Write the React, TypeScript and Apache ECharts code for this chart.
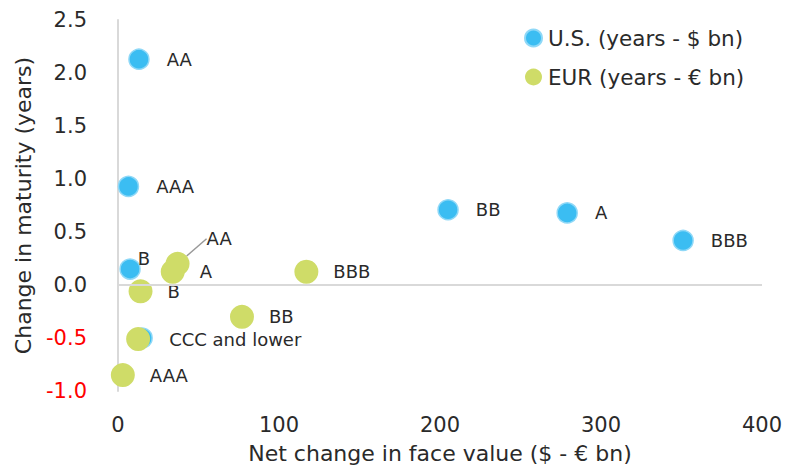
import React, { useEffect, useRef } from "react";
import * as echarts from "echarts";

const usLabels = ["AA", "AAA", "B", "CCC and lower", "BB", "A", "BBB"];
const usX = [13, 6.5, 7.5, 15, 205, 279, 351];
const usY = [2.13, 0.93, 0.15, -0.5, 0.71, 0.68, 0.42];

const eurLabels = ["AA", "A", "BBB", "B", "BB", "CCC and lower", "AAA"];
const eurX = [37, 34, 117, 14, 77, 12.5, 3];
const eurY = [0.2, 0.125, 0.125, -0.06, -0.3, -0.51, -0.85];

const xTicks = { min: 0, max: 400, interval: 100 };
const yTicks = { min: -1, max: 2.5, interval: 0.5 };

const FONT = "DejaVu Sans";
const W = "normal";
const TXT = "#2a2a2a";

export default function App() {
  const ref = useRef<HTMLDivElement>(null);
  useEffect(() => {
    document.body.style.margin = "0";
    if (!ref.current) return;
    const chart = echarts.init(ref.current, undefined, { renderer: "svg" });
    const labelStyle = { color: TXT, fontSize: 18, fontFamily: FONT, fontWeight: W };
    const usData = usX.map((x, i) => {
      const item: any = { value: [x, usY[i]], name: usLabels[i] };
      if (usLabels[i] === "CCC and lower") item.label = { show: false };
      if (usLabels[i] === "B") item.label = { offset: [-20, -11] };
      return item;
    });
    const eurData = eurX.map((x, i) => {
      const item: any = { value: [x, eurY[i]], name: eurLabels[i] };
      if (eurLabels[i] === "CCC and lower") item.label = { distance: 19 };
      if (eurLabels[i] === "AA")
        item.labelLine = { show: true, lineStyle: { color: "#999", width: 1.5 } };
      return item;
    });
    chart.setOption({
      animation: false,
      backgroundColor: "#fff",
      textStyle: { fontFamily: FONT },
      grid: { left: 118, right: 26, top: 20, bottom: 78 },
      legend: {
        orient: "vertical",
        left: 519,
        top: 22,
        itemWidth: 17,
        itemHeight: 17,
        itemGap: 17,
        icon: "circle",
        textStyle: { fontSize: 21.5, color: TXT, fontFamily: FONT, fontWeight: W, padding: [0, 0, 0, 1] },
        data: ["U.S. (years - $ bn)", "EUR (years - € bn)"],
      },
      xAxis: {
        type: "value",
        ...xTicks,
        name: "Net change in face value ($ - € bn)",
        nameLocation: "middle",
        nameGap: 51,
        nameTextStyle: { fontSize: 22, color: TXT, fontFamily: FONT, fontWeight: W },
        axisLine: { show: false, onZero: false },
        axisTick: { show: false },
        splitLine: { show: false },
        axisLabel: { fontSize: 21, color: TXT, margin: 23, fontFamily: FONT, fontWeight: W },
      },
      yAxis: {
        type: "value",
        ...yTicks,
        name: "Change in maturity (years)",
        nameLocation: "middle",
        nameGap: 84,
        nameTextStyle: { fontSize: 22, color: TXT, fontFamily: FONT, fontWeight: W },
        axisLine: { show: true, lineStyle: { color: "#d9d9d9", width: 2 } },
        axisTick: { show: false },
        splitLine: { show: false },
        axisLabel: {
          fontSize: 21,
          color: TXT,
          margin: 31,
          fontFamily: FONT,
          fontWeight: W,
          formatter: (v: number) => (v < 0 ? `{neg|${v.toFixed(1)}}` : v.toFixed(1)),
          rich: { neg: { color: "#ff0000", fontSize: 21, fontFamily: FONT, fontWeight: W } },
        },
      },
      series: [
        {
          name: "U.S. (years - $ bn)",
          type: "scatter",
          symbolSize: 20,
          itemStyle: { color: "#3bbdf2", borderColor: "#8fd8f7", borderWidth: 1.5, opacity: 1 },
          label: {
            show: true,
            position: "right",
            distance: 17,
            formatter: (p: any) => p.name,
            ...labelStyle,
          },
          data: usData,
          z: 2,
          markLine: {
            silent: true,
            symbol: ["none", "none"],
            label: { show: false },
            lineStyle: { color: "#d9d9d9", width: 2, type: "solid" },
            data: [{ yAxis: 0 }],
          },
        },
        {
          name: "EUR (years - € bn)",
          type: "scatter",
          symbolSize: 24,
          itemStyle: { color: "#cfdc68", opacity: 1 },
          label: {
            show: true,
            position: "right",
            distance: 15,
            formatter: (p: any) => p.name,
            ...labelStyle,
          },
          labelLayout: (p: any) =>
            eurLabels[p.dataIndex] === "AA" ? { dx: 2, dy: -25 } : {},
          data: eurData,
          z: 3,
        },
      ],
    });
    return () => chart.dispose();
  }, []);
  return <div ref={ref} style={{ width: 788, height: 469 }} />;
}
